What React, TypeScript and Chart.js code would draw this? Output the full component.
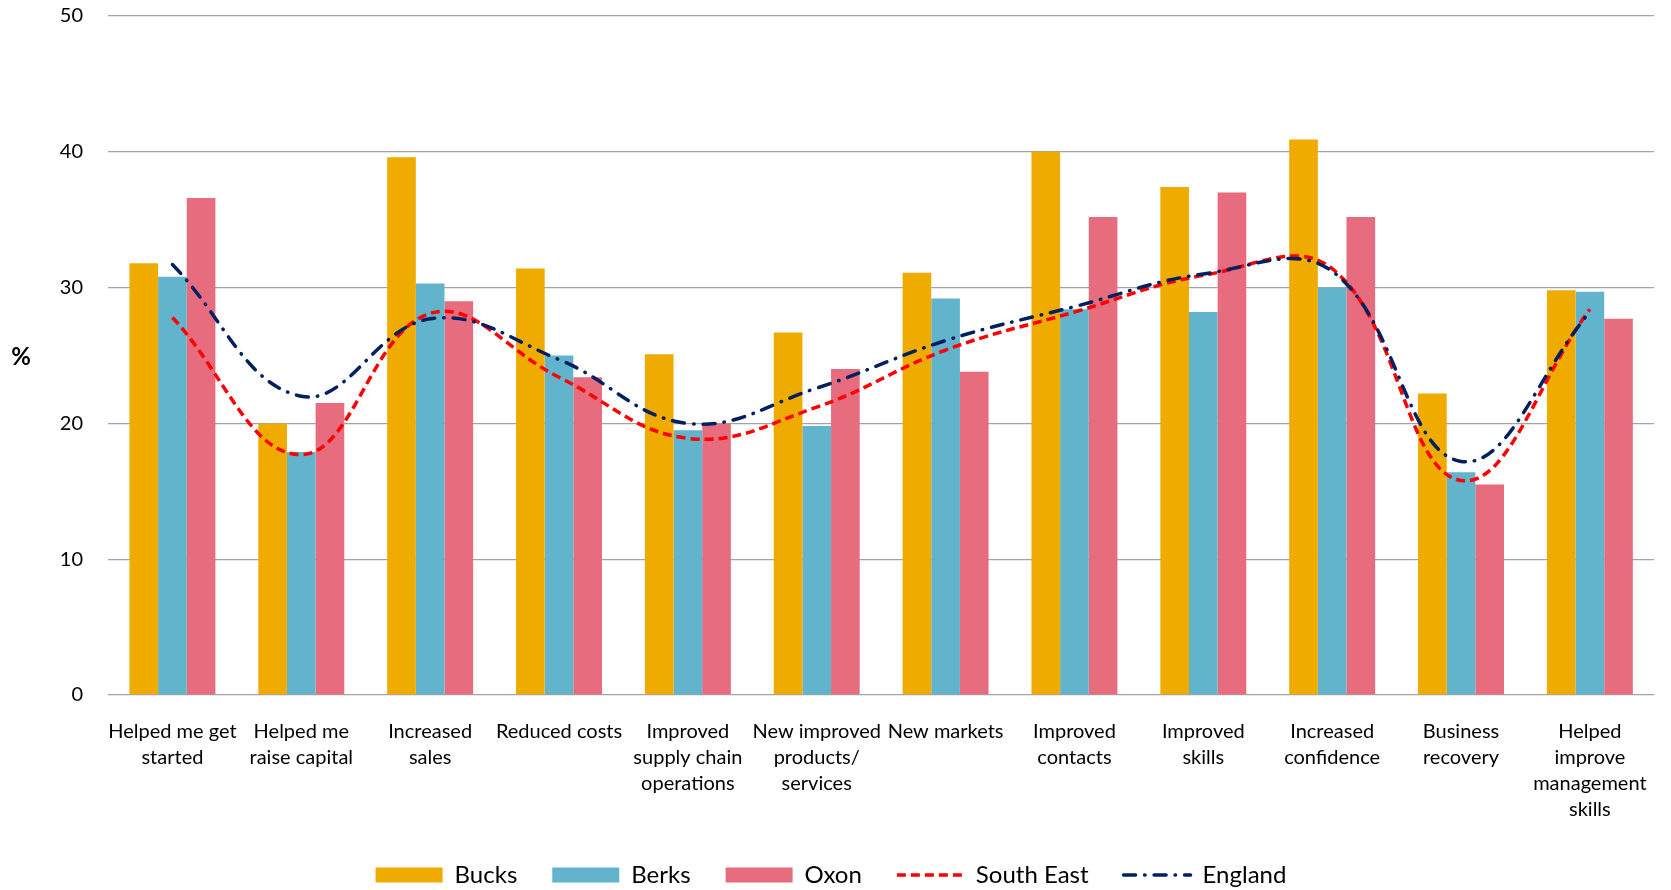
import React, { useEffect, useRef } from "react";
import { Chart, registerables } from "chart.js";

Chart.register(...registerables);

const categories: string[][] = [
  ["Helped me get", "started"],
  ["Helped me", "raise capital"],
  ["Increased", "sales"],
  ["Reduced costs"],
  ["Improved", "supply chain", "operations"],
  ["New improved", "products/", "services"],
  ["New markets"],
  ["Improved", "contacts"],
  ["Improved", "skills"],
  ["Increased", "confidence"],
  ["Business", "recovery"],
  ["Helped", "improve", "management", "skills"],
];

const bucks = [31.8, 20.0, 39.6, 31.4, 25.1, 26.7, 31.1, 40.0, 37.4, 40.9, 22.2, 29.8];
const berks = [30.8, 17.9, 30.3, 25.0, 19.5, 19.8, 29.2, 28.4, 28.2, 30.0, 16.4, 29.7];
const oxon = [36.6, 21.5, 29.0, 23.4, 20.0, 24.0, 23.8, 35.2, 37.0, 35.2, 15.5, 27.7];
const southEast = [27.8, 17.7, 28.1, 23.4, 18.9, 21.2, 25.4, 28.2, 30.9, 31.4, 15.8, 28.4];
const england = [31.7, 22.0, 27.7, 24.7, 20.0, 22.6, 26.1, 28.6, 31.0, 31.2, 17.2, 28.2];

const yTicks = [0, 10, 20, 30, 40, 50];

const FONT = "Lato";

const percentLabel = {
  id: "percentLabel",
  afterDraw(chart: any) {
    const { ctx, chartArea } = chart;
    ctx.save();
    ctx.font = `bold 24px ${FONT}`;
    ctx.fillStyle = "#000";
    ctx.textAlign = "center";
    ctx.textBaseline = "middle";
    ctx.fillText("%", 21, (chartArea.top + chartArea.bottom) / 2 + 2);
    ctx.restore();
  },
};

export default function App() {
  const canvasRef = useRef<HTMLCanvasElement | null>(null);

  useEffect(() => {
    if (!canvasRef.current) return;
    const chart = new Chart(canvasRef.current, {
      type: "bar",
      data: {
        labels: categories,
        datasets: [
          { label: "Bucks", data: bucks, backgroundColor: "#F0AB00", borderWidth: 0, order: 2 } as any,
          { label: "Berks", data: berks, backgroundColor: "#62B3CC", borderWidth: 0, order: 2 } as any,
          { label: "Oxon", data: oxon, backgroundColor: "#E66C7E", borderWidth: 0, order: 2 } as any,
          {
            type: "line",
            label: "South East",
            data: southEast,
            borderColor: "#FF0000",
            backgroundColor: "#FF0000",
            borderWidth: 3.5,
            borderDash: [9, 5],
            borderCapStyle: "butt",
            tension: 0.4,
            fill: false,
            pointRadius: 0,
            pointHoverRadius: 0,
            order: 1,
          } as any,
          {
            type: "line",
            label: "England",
            data: england,
            borderColor: "#002060",
            backgroundColor: "#002060",
            borderWidth: 3.5,
            borderDash: [12, 9, 0.5, 9],
            borderCapStyle: "round",
            tension: 0.4,
            fill: false,
            pointRadius: 0,
            pointHoverRadius: 0,
            order: 0,
          } as any,
        ],
      },
      options: {
        animation: false,
        responsive: true,
        maintainAspectRatio: false,
        layout: { padding: { left: 0, right: 9, top: 16, bottom: 0 } },
        datasets: {
          bar: { categoryPercentage: 0.667, barPercentage: 1.0 },
        } as any,
        plugins: {
          tooltip: { enabled: false },
          legend: {
            display: true,
            position: "bottom",
            labels: {
              usePointStyle: true,
              pointStyleWidth: 67,
              boxHeight: 15,
              padding: 35,
              color: "#000",
              font: { family: FONT, size: 24 },
              generateLabels: (chart: any) => {
                const items = (Chart.defaults as any).plugins.legend.labels.generateLabels(chart);
                items.sort((a: any, b: any) => a.datasetIndex - b.datasetIndex);
                return items.map((it: any) => {
                  const ds: any = chart.data.datasets[it.datasetIndex];
                  if (ds.type === "line") {
                    it.pointStyle = "line";
                    it.lineDash = ds.borderDash;
                    it.lineWidth = ds.borderWidth;
                    it.lineCap = ds.borderCapStyle;
                    it.strokeStyle = ds.borderColor;
                    it.fillStyle = ds.borderColor;
                  } else {
                    it.pointStyle = "rect";
                    it.lineWidth = 0;
                    it.fillStyle = ds.backgroundColor;
                    it.strokeStyle = ds.backgroundColor;
                  }
                  return it;
                });
              },
            },
          },
        },
        scales: {
          x: {
            grid: { display: false, drawTicks: false },
            border: { display: false },
            ticks: {
              color: "#000",
              font: { family: FONT, size: 20, lineHeight: 1.3 },
              padding: 24,
              autoSkip: false,
              maxRotation: 0,
              minRotation: 0,
            },
            afterFit: (s: any) => {
              s.height = 133;
            },
          },
          y: {
            min: 0,
            max: 50,
            afterBuildTicks: (s: any) => {
              s.ticks = yTicks.map((v) => ({ value: v }));
            },
            grid: { color: "#a3a3a3", lineWidth: 1.3, drawTicks: false },
            border: { display: false },
            ticks: {
              color: "#000",
              font: { family: FONT, size: 20 },
              padding: 25,
            },
            afterFit: (s: any) => {
              s.width = 108;
              s.paddingTop = 0;
              s.paddingBottom = 0;
            },
          },
        },
      },
      plugins: [percentLabel],
    });
    return () => chart.destroy();
  }, []);

  return (
    <div
      style={{
        position: "absolute",
        left: 0,
        top: 0,
        width: 1671,
        height: 890,
        overflow: "hidden",
        background: "#fff",
      }}
    >
      <div style={{ position: "relative", width: 1671, height: 897 }}>
        <canvas ref={canvasRef} />
      </div>
    </div>
  );
}
